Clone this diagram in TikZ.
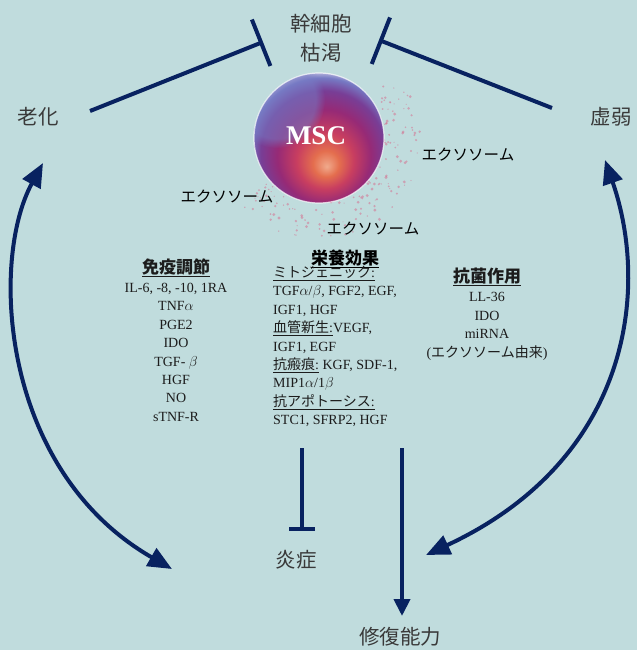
\documentclass[tikz,border=0pt]{standalone}
\usepackage{fontspec}
\setmainfont{Liberation Serif}
\newfontfamily\jpfont{Noto Sans CJK JP}
\usetikzlibrary{arrows.meta,positioning,fadings}

\definecolor{panelbg}{RGB}{192,220,221}
\definecolor{navy}{RGB}{8,34,96}
\definecolor{labelgray}{RGB}{58,58,58}
\definecolor{bodyink}{RGB}{28,28,28}
\definecolor{dotpink}{RGB}{214,104,138}
% colours of the cell
\definecolor{cellcore}{RGB}{240,170,140}
\definecolor{cellorange}{RGB}{228,110,78}
\definecolor{cellred}{RGB}{200,62,96}
\definecolor{cellmagenta}{RGB}{150,42,118}
\definecolor{cellpurple}{RGB}{120,62,150}
\definecolor{cellblue}{RGB}{118,122,196}
\definecolor{cellrim}{RGB}{228,222,238}

\pgfdeclareradialshading{mscball}{\pgfpoint{3bp}{-11bp}}{%
  color(0bp)=(cellcore); color(5bp)=(cellorange); color(11bp)=(cellred);
  color(18bp)=(cellmagenta); color(24bp)=(cellpurple); color(28bp)=(cellblue);
  color(31bp)=(cellrim); color(50bp)=(cellrim)}

\newcommand\jp[1]{{\jpfont #1}}

\begin{document}
\begin{tikzpicture}[x=1pt,y=-1pt,
  bigjp/.style={font=\jpfont\fontsize{20.5}{29}\selectfont, text=labelgray, inner sep=0pt, align=center},
  exo/.style={font=\jpfont\fontsize{15.5}{18}\selectfont, text=black, inner sep=0pt},
  column/.style={font=\fontsize{14}{18.4}\selectfont, text=bodyink, inner sep=0pt},
  head/.style={font=\jpfont\bfseries\fontsize{17}{20}\selectfont, text=black, inner sep=0pt},
  link/.style={draw=navy, line width=4pt},
  block/.style={link, -{Bar[width=50pt,line width=4pt]}},
  both/.style={link, {Triangle[length=24pt,width=20pt]}-{Triangle[length=24pt,width=20pt]}},
]
\fill[panelbg] (0,0) rectangle (637,650);
\useasboundingbox (0,0) rectangle (637,650);

% outer labels
\node[bigjp] (exhaust) at (321,38) {幹細胞\\枯渇};
\node[bigjp] (aging)   at (38,117)  {老化};
\node[bigjp] (frail)   at (611,117) {虚弱};
\node[bigjp] (inflam)  at (296,560) {炎症};
\node[bigjp] (repair)  at (400,637) {修復能力};

% the stem cell and its vesicles
\coordinate (cell) at (319,138);
\pgfmathsetseed{42}
\foreach \k in {1,...,170}{
  \pgfmathsetmacro\ang{-40+rnd*180}
  \pgfmathsetmacro\rad{62+rnd*40}
  \pgfmathsetmacro\dx{\rad*cos(\ang)}
  \pgfmathsetmacro\dy{\rad*sin(\ang)}
  \pgfmathsetmacro\dotr{0.5+rnd*1.1}
  \fill[dotpink, opacity=.5] ([shift={(\dx,\dy)}]cell) circle (\dotr);
}
\shade[shading=mscball] (cell) circle (65);
\begin{scope}
  \clip (cell) circle (65);
  \fill[cellblue, opacity=.55, path fading=circle with fuzzy edge 20 percent]
    ([shift={(-42,-38)}]cell) circle (48);
\end{scope}
\draw[white, opacity=.7, line width=1.2pt] (cell) circle (65);
\node[font=\bfseries\fontsize{27}{30}\selectfont, text=white] (msc) at ([shift={(-3,-2)}]cell) {MSC};

\node[exo] (exoR) at (468,155) {エクソソーム};
\node[exo] (exoL) at (227,197) {エクソソーム};
\node[exo] (exoB) at (373,229) {エクソソーム};

% effect columns
\node[column, align=center] (immune) at (176,340) {%
  \jpfont\bfseries\fontsize{17}{20}\selectfont\underline{免疫調節}\\[1pt]
  IL-6, -8, -10, 1RA\\ TNF$\alpha$\\ PGE2\\ IDO\\ TGF- $\beta$\\ HGF\\ NO\\ sTNF-R};

\node[head] (nutrihead) at (345,259) {\underline{栄養効果}};
\node[column, align=left, anchor=north west] (nutri) at (273,266) {%
  \underline{\jp{ミトジェニック}:}\\
  TGF$\alpha$/$\beta$, FGF2, EGF,\\
  IGF1, HGF\\
  \underline{\jp{血管新生}:}VEGF,\\
  IGF1, EGF\\
  \underline{\jp{抗瘢痕}:} KGF, SDF-1,\\
  MIP1$\alpha$/1$\beta$\\
  \underline{\jp{抗アポトーシス}:}\\
  STC1, SFRP2, HGF};

\node[column, align=center] (microbe) at (487,314) {%
  \jpfont\bfseries\fontsize{17}{20}\selectfont\underline{抗菌作用}\\[1pt]
  LL-36\\ IDO\\ miRNA\\ (\jp{エクソソーム由来})};

% connectors
\coordinate (agingout) at (90,111);
\coordinate (frailout) at (552,108);
\coordinate (blockL) at (263,42);
\coordinate (blockR) at (379,40);
\draw[block] (agingout) -- (blockL);
\draw[block] (frailout) -- (blockR);

\coordinate (agingtip) at (43,163);
\coordinate (inflamtip) at (172,569);
\coordinate (frailtip) at (605,160);
\coordinate (repairtip) at (426,555);
\draw[both] (agingtip) .. controls +(-53,97) and +(-172,-99) .. (inflamtip);
\draw[both] (frailtip) .. controls +(45,130) and +(204,-95) .. (repairtip);

\coordinate (calmtop) at (302,448);
\coordinate (calmend) at (302,531);
\coordinate (healtop) at (402,448);
\coordinate (healend) at (402,616);
\draw[link, -{Bar[width=26pt,line width=4pt]}] (calmtop) -- (calmend);
\draw[link, -{Triangle[length=17pt,width=16pt]}] (healtop) -- (healend);
\end{tikzpicture}
\end{document}
